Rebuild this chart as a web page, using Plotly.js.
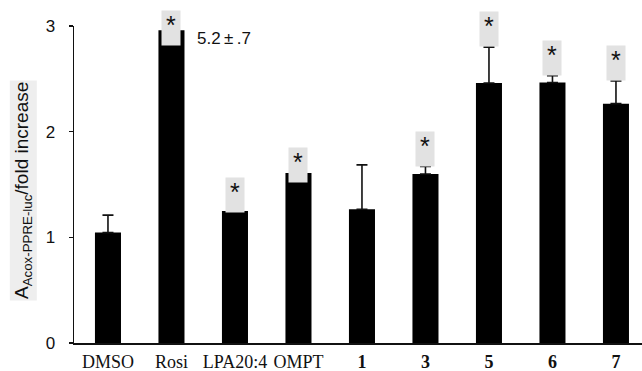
<!DOCTYPE html>
<html>
<head>
<meta charset="utf-8">
<script src="https://cdn.plot.ly/plotly-3.0.1.min.js"></script>
<style>html,body{margin:0;padding:0;background:#fff;}#chart{width:642px;height:371px;}</style>
</head>
<body>
<div id="chart"></div>
<script>
// Data
var categories = ["DMSO", "Rosi", "LPA20:4", "OMPT", "1", "3", "5", "6", "7"];
var tickLabels = ["DMSO", "Rosi", "LPA20:4", "OMPT", "<b>1</b>", "<b>3</b>", "<b>5</b>", "<b>6</b>", "<b>7</b>"];
var foldIncrease = [1.045, 5.2, 1.25, 1.61, 1.266, 1.60, 2.46, 2.465, 2.265];
var errorUp = [0.165, 0.7, 0, 0, 0.42, 0.07, 0.34, 0.065, 0.215];
var significant = [false, true, true, true, false, true, true, true, true];
var brokenLabel = "5.2\u2009\u00b1\u2009.7";

// Axis is broken at this value; bars above it are drawn truncated
var axisCap = 2.96;
var shownValues = foldIncrease.map(function (v) { return Math.min(v, axisCap); });
var shownErrors = foldIncrease.map(function (v, i) { return v > axisCap ? 0 : errorUp[i]; });

// how far (px) the grey marker box sinks into the bar top
var boxOverlap = {"Rosi": 16, "LPA20:4": 2, "OMPT": 10};

var idx = categories.map(function (c, i) { return i; });

var trace = {
  type: "bar",
  x: idx,
  y: shownValues,
  width: 0.41,
  marker: {color: "#000000", line: {width: 0}},
  error_y: {type: "data", symmetric: false, array: shownErrors, arrayminus: categories.map(function(){return 0;}),
            color: "#111111", thickness: 1.6, width: 5.5},
  hoverinfo: "none"
};

var annotations = [];
categories.forEach(function (c, i) {
  if (!significant[i]) return;
  annotations.push({
    x: i, y: shownValues[i] + shownErrors[i], xref: "x", yref: "y",
    xanchor: "center", yanchor: "bottom",
    yshift: -(boxOverlap[c] || 0),
    text: "*", showarrow: false,
    font: {family: "Liberation Sans, Arial, sans-serif", size: 25, color: "#111"},
    bgcolor: "#e2e2e2", width: 18, height: 34, borderpad: 0, valign: "top"
  });
});
annotations.push({
  x: 1, y: axisCap, xref: "x", yref: "y", xanchor: "left", yanchor: "middle",
  xshift: 24, yshift: -8, text: brokenLabel, showarrow: false,
  font: {family: "Liberation Sans, Arial, sans-serif", size: 17, color: "#111"}
});
annotations.push({
  x: -0.0895, y: 0.48, xref: "paper", yref: "paper", xanchor: "center", yanchor: "middle",
  textangle: -90, showarrow: false,
  text: "A<sub>Acox-PPRE-luc</sub>/fold increase",
  font: {family: "Liberation Sans, Arial, sans-serif", size: 19, color: "#111"},
  bgcolor: "#eeeeee", borderpad: 1
});

var layout = {
  width: 642, height: 371,
  margin: {l: 74, r: 0, t: 26, b: 28},
  paper_bgcolor: "#ffffff", plot_bgcolor: "#ffffff",
  showlegend: false,
  xaxis: {
    type: "linear", range: [-0.535, 8.41],
    tickvals: idx, ticktext: tickLabels,
    showline: true, linecolor: "#111", linewidth: 1.5,
    ticks: "", showgrid: false, zeroline: false, ticklabelstandoff: 2,
    tickfont: {family: "Liberation Serif, Times New Roman, serif", size: 18, color: "#111"}
  },
  yaxis: {
    range: [0, 3], tickvals: [0, 1, 2, 3],
    showline: true, linecolor: "#111", linewidth: 1.5,
    ticks: "outside", ticklen: 4, tickwidth: 1.5, tickcolor: "#111",
    showgrid: false, zeroline: false, ticklabelstandoff: 10,
    tickfont: {family: "Liberation Sans, Arial, sans-serif", size: 17, color: "#111"}
  },
  annotations: annotations
};

Plotly.newPlot("chart", [trace], layout, {staticPlot: true, displayModeBar: false});
</script>
</body>
</html>
